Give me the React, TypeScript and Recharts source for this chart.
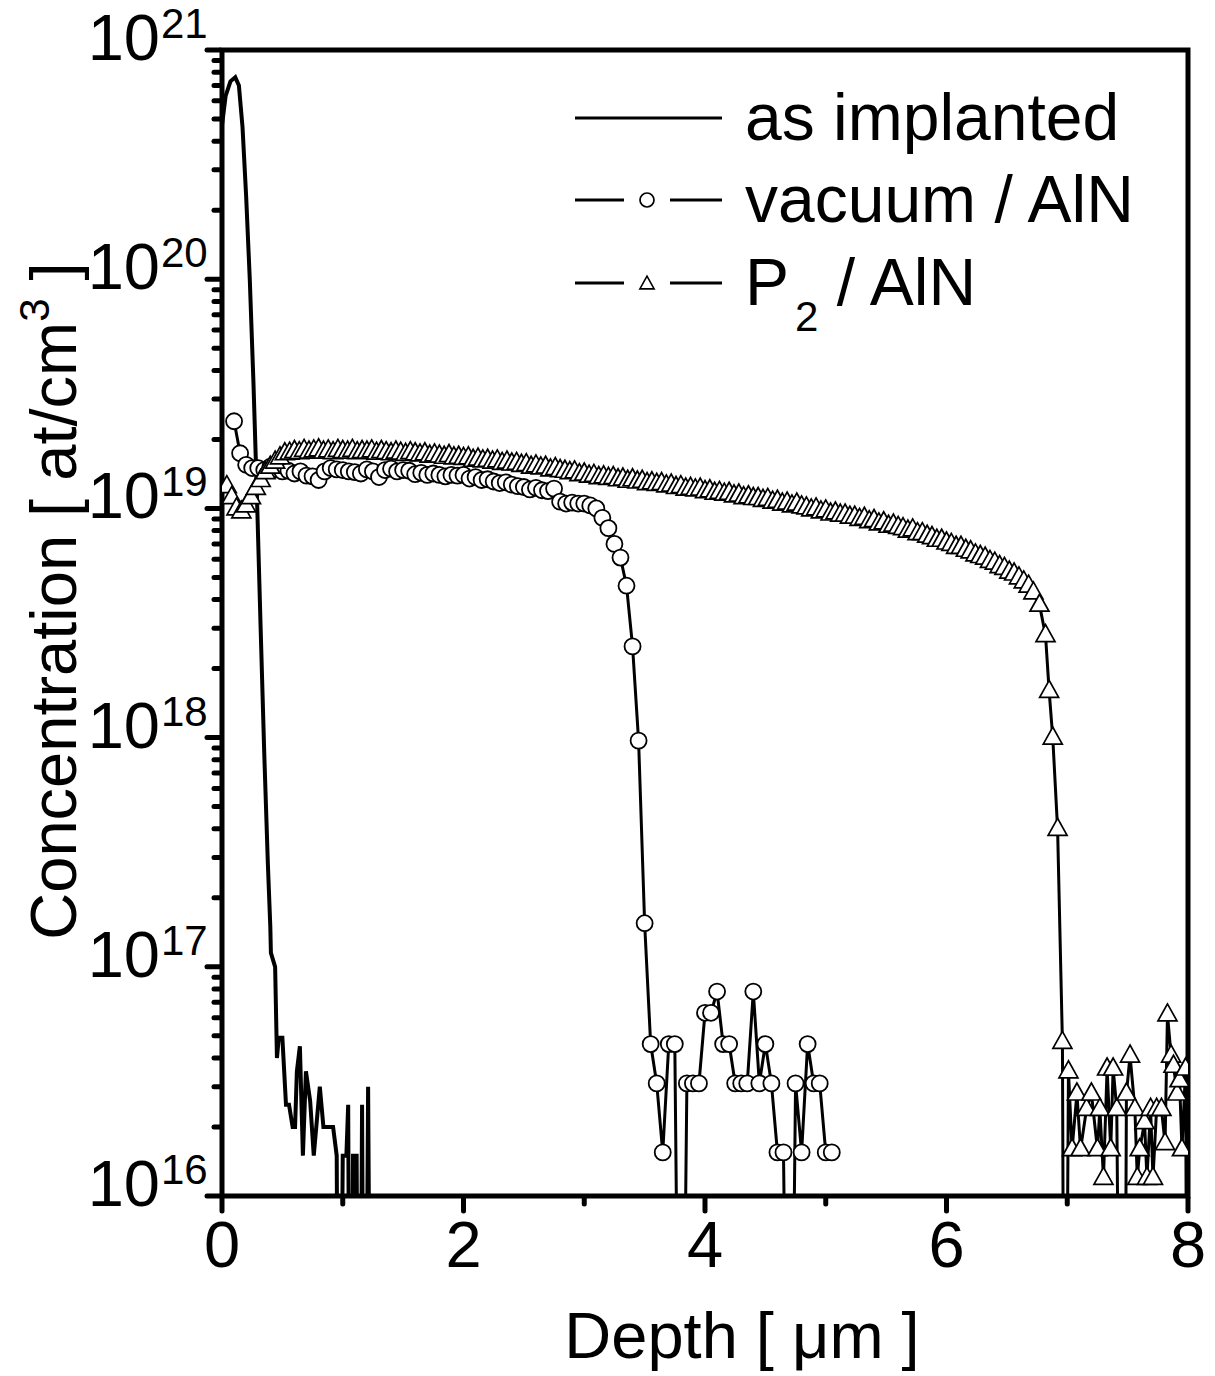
import React from "react";
import { LineChart, Line, XAxis, YAxis, ReferenceArea, Legend } from "recharts";

const W = 1215;
const H = 1376;
const FONT = "'Liberation Sans', Arial, Helvetica, sans-serif";

const xTicks = [0, 1, 2, 3, 4, 5, 6, 7, 8];
const xLabelTicks = [0, 2, 4, 6, 8];
const yDecades = [16, 17, 18, 19, 20, 21];
const yMinorSteps = [2, 3, 4, 5, 6, 7, 8, 9];
const seriesNames = ["as implanted", "vacuum / AlN", "P2 / AlN"];

// 0 = below detection limit; such points are drawn off the bottom of the log axis
const BELOW_RANGE = 1e14;

// as implanted: [depth (µm), concentration (at/cm3)]
const asImplanted: [number, number][] = [
  [0.0, 4.7e20], [0.03, 6.3e20], [0.07, 7.3e20], [0.11, 7.6e20], [0.14, 7.0e20],
  [0.17, 4.6e20], [0.2, 2.3e20], [0.23, 1.0e20], [0.26, 3.6e19], [0.29, 1.1e19],
  [0.32, 3.0e18], [0.35, 8.5e17], [0.38, 2.8e17], [0.4, 1.5e17], [0.405, 1.15e17],
  [0.44, 1.0e17], [0.455, 4.0e16], [0.47, 4.9e16], [0.5, 4.9e16], [0.53, 2.5e16],
  [0.555, 2.5e16], [0.585, 2.0e16], [0.605, 2.0e16], [0.62, 3.5e16], [0.645, 4.5e16],
  [0.67, 1.5e16], [0.695, 3.5e16], [0.73, 2.6e16], [0.76, 1.5e16], [0.81, 3.0e16],
  [0.84, 2.0e16], [0.92, 2.0e16], [0.95, 1.5e16], [0.97, 0], [1.0, 1.5e16],
  [1.03, 1.5e16], [1.045, 2.5e16], [1.065, 0], [1.085, 1.5e16], [1.115, 1.5e16],
  [1.135, 0], [1.16, 2.5e16], [1.18, 0], [1.21, 3.0e16], [1.24, 0],
];

// vacuum / AlN: SIMS points every 0.05 µm from 0.10 µm
const vacuumStart = 0.1;
const vacuumStep = 0.05;
const vacuumConc = [
  2.4e19, 1.74e19, 1.55e19, 1.5e19, 1.5e19, 1.47e19, 1.52e19, 1.48e19, 1.45e19, 1.46e19,
  1.42e19, 1.45e19, 1.39e19, 1.38e19, 1.33e19, 1.45e19, 1.5e19, 1.48e19, 1.47e19, 1.45e19,
  1.44e19, 1.42e19, 1.48e19, 1.45e19, 1.37e19, 1.47e19, 1.49e19, 1.45e19, 1.47e19, 1.46e19,
  1.41e19, 1.43e19, 1.4e19, 1.42e19, 1.4e19, 1.38e19, 1.4e19, 1.39e19, 1.4e19, 1.35e19,
  1.37e19, 1.33e19, 1.34e19, 1.31e19, 1.29e19, 1.3e19, 1.27e19, 1.25e19, 1.24e19, 1.21e19,
  1.23e19, 1.2e19, 1.19e19, 1.22e19, 1.07e19, 1.05e19, 1.06e19, 1.05e19, 1.05e19, 1.03e19,
  1.0e19, 9.1e18, 8.2e18, 7.0e18, 6.1e18, 4.6e18, 2.5e18, 9.7e17, 1.55e17, 4.6e16,
  3.1e16, 1.55e16, 4.6e16, 4.6e16, 0, 3.1e16, 3.1e16, 3.1e16, 6.3e16, 6.3e16,
  7.8e16, 4.6e16, 4.6e16, 3.1e16, 3.1e16, 3.1e16, 7.8e16, 3.1e16, 4.6e16, 3.1e16,
  1.55e16, 1.55e16, 0, 3.1e16, 1.55e16, 4.6e16, 3.1e16, 3.1e16, 1.55e16, 1.55e16,
];

// P2 / AlN plateau: points every 0.04 µm from 0.04 µm, in 1e19 at/cm3
const p2Start = 0.04;
const p2Step = 0.04;
const p2PlateauE19 = [
  1.25, 1.12, 1.0, 0.97, 1.03, 1.12, 1.23, 1.33, 1.44, 1.52,
  1.6, 1.67, 1.74, 1.75, 1.78, 1.76, 1.8, 1.77, 1.79, 1.81,
  1.77, 1.79, 1.76, 1.8, 1.78, 1.77, 1.8, 1.76, 1.78, 1.77,
  1.79, 1.75, 1.78, 1.76, 1.74, 1.77, 1.75, 1.73, 1.76, 1.74,
  1.72, 1.74, 1.7, 1.72, 1.7, 1.68, 1.71, 1.67, 1.68, 1.66,
  1.67, 1.63, 1.65, 1.62, 1.63, 1.6, 1.62, 1.58, 1.6, 1.57,
  1.58, 1.55, 1.56, 1.52, 1.54, 1.51, 1.52, 1.48, 1.5, 1.47,
  1.46, 1.44, 1.45, 1.41, 1.42, 1.39, 1.4, 1.37, 1.38, 1.36,
  1.37, 1.34, 1.35, 1.32, 1.34, 1.31, 1.32, 1.29, 1.3, 1.28,
  1.29, 1.26, 1.27, 1.24, 1.25, 1.22, 1.23, 1.21, 1.22, 1.19,
  1.2, 1.17, 1.18, 1.16, 1.17, 1.14, 1.15, 1.12, 1.13, 1.11,
  1.11, 1.09, 1.1, 1.07, 1.08, 1.05, 1.06, 1.03, 1.05, 1.02,
  1.01, 0.99, 1.0, 0.97, 0.98, 0.95, 0.96, 0.94, 0.94, 0.92,
  0.92, 0.9, 0.91, 0.88, 0.89, 0.86, 0.87, 0.84, 0.85, 0.83,
  0.82, 0.8, 0.81, 0.78, 0.78, 0.76, 0.75, 0.73, 0.73, 0.71,
  0.7, 0.68, 0.68, 0.66, 0.65, 0.63, 0.62, 0.61, 0.59, 0.58,
  0.56, 0.55, 0.53, 0.52, 0.5, 0.48, 0.46, 0.43,
];

// P2 / AlN edge and noise floor: [depth (µm), concentration (at/cm3)]
const p2Tail: [number, number][] = [
  [6.77, 3.8e18], [6.82, 2.8e18], [6.85, 1.6e18], [6.88, 1.0e18], [6.92, 4.0e17],
  [6.96, 4.7e16], [6.98, 0], [7.01, 3.5e16], [7.04, 1.6e16], [7.08, 2.8e16],
  [7.11, 1.6e16], [7.16, 2.4e16], [7.2, 2.8e16], [7.25, 1.6e16], [7.27, 2.4e16],
  [7.3, 1.2e16], [7.33, 3.6e16], [7.36, 1.6e16], [7.38, 3.6e16], [7.41, 2.4e16],
  [7.45, 0], [7.47, 0], [7.49, 2.8e16], [7.52, 4.1e16], [7.56, 2.4e16],
  [7.58, 1.2e16], [7.6, 1.6e16], [7.64, 2.1e16], [7.66, 1.2e16], [7.69, 2.4e16],
  [7.71, 1.2e16], [7.74, 2.4e16], [7.78, 2.4e16], [7.81, 1.7e16], [7.83, 6.2e16],
  [7.86, 4.1e16], [7.88, 3.7e16], [7.91, 2.8e16], [7.93, 3.2e16], [7.95, 1.6e16],
  [7.98, 3.6e16], [8.0, 0],
];

const toPoint = (x: number, v: number) => ({ x, y: v > 0 ? v : BELOW_RANGE });

const asImplantedData = asImplanted.map(([x, v]) => toPoint(x, v));
const vacuumData = vacuumConc.map((v, i) => toPoint(+(vacuumStart + i * vacuumStep).toFixed(3), v));
const p2Data = [
  ...p2PlateauE19.map((v, i) => toPoint(+(p2Start + i * p2Step).toFixed(3), v * 1e19)),
  ...p2Tail.map(([x, v]) => toPoint(x, v)),
];

const yTicks = yDecades.flatMap((d, i) =>
  i < yDecades.length - 1 ? [10 ** d, ...yMinorSteps.map((m) => m * 10 ** d)] : [10 ** d]
);

const XTick = (props: any) => {
  const { x, y, payload } = props;
  const major = xLabelTicks.includes(payload.value);
  return (
    <g>
      <line x1={x} x2={x} y1={y + 2} y2={y + (major ? 15 : 8)} stroke="#000" strokeWidth={5} strokeLinecap="round" />
      {major && (
        <text x={x} y={y + 71} textAnchor="middle" fontSize={65} fontFamily={FONT} fill="#000">
          {payload.value}
        </text>
      )}
    </g>
  );
};

const YTick = (props: any) => {
  const { x, y, payload } = props;
  const v = payload.value as number;
  const decade = yDecades.find((d) => 10 ** d === v);
  const major = decade !== undefined;
  return (
    <g>
      <line x1={x - 2} x2={x - (major ? 15 : 8)} y1={y} y2={y} stroke="#000" strokeWidth={5} strokeLinecap="round" />
      {major && (
        <g fontFamily={FONT} fill="#000">
          <text x={x - 62} y={y + 10} textAnchor="end" fontSize={65}>10</text>
          <text x={x - 61} y={y - 12} fontSize={42}>{decade}</text>
        </g>
      )}
    </g>
  );
};

const XTitle = () => (
  <text x={742} y={1358} textAnchor="middle" fontSize={65} fontFamily={FONT} fill="#000">
    Depth [ μm ]
  </text>
);

const YTitle = () => (
  <text transform="rotate(-90)" x={-601} y={76} textAnchor="middle" fontSize={65} fontFamily={FONT} fill="#000">
    Concentration [ at/cm
    <tspan dy={-27} fontSize={42}>3</tspan>
    <tspan dy={27}> ]</tspan>
  </text>
);

const CircleDot = (props: any) => {
  const { cx, cy, index } = props;
  if (cx == null || cy == null || !isFinite(cy)) return <g key={`c-${index}`} />;
  return <circle key={`c-${index}`} cx={cx} cy={cy} r={8} fill="#fff" stroke="#000" strokeWidth={1.8} />;
};

const triPoints = (cx: number, cy: number, s = 1) =>
  `${cx},${cy - 10.5 * s} ${cx - 9.5 * s},${cy + 6.5 * s} ${cx + 9.5 * s},${cy + 6.5 * s}`;

const TriangleDot = (props: any) => {
  const { cx, cy, index } = props;
  if (cx == null || cy == null || !isFinite(cy)) return <g key={`t-${index}`} />;
  return <polygon key={`t-${index}`} points={triPoints(cx, cy)} fill="#fff" stroke="#000" strokeWidth={1.7} />;
};

// legend box sits at page (560, 60)
const LegendBox = () => (
  <svg width={640} height={290} style={{ display: "block" }}>
    <g stroke="#000" strokeWidth={3}>
      <line x1={15} x2={162} y1={58} y2={58} />
      <line x1={15} x2={64} y1={140} y2={140} />
      <line x1={110} x2={162} y1={140} y2={140} />
      <line x1={15} x2={64} y1={223} y2={223} />
      <line x1={110} x2={162} y1={223} y2={223} />
    </g>
    <circle cx={87} cy={140} r={7} fill="#fff" stroke="#000" strokeWidth={1.7} />
    <polygon points={triPoints(87, 224, 0.75)} fill="#fff" stroke="#000" strokeWidth={1.6} />
    <g fontFamily={FONT} fontSize={66} fill="#000">
      <text x={185} y={80}>{seriesNames[0]}</text>
      <text x={185} y={162}>{seriesNames[1]}</text>
      <text x={185} y={245}>
        P
        <tspan dx={6} dy={26} fontSize={42}>2</tspan>
        <tspan dy={-26}> / AlN</tspan>
      </text>
    </g>
  </svg>
);

export default function App() {
  return (
    <div style={{ position: "absolute", left: 0, top: 0, background: "#fff" }}>
      <LineChart width={W} height={H} margin={{ top: 50, right: 27, left: 0, bottom: 0 }}>
        <XAxis
          type="number"
          dataKey="x"
          domain={[0, 8]}
          allowDataOverflow
          ticks={xTicks}
          interval={0}
          tick={<XTick />}
          tickLine={false}
          axisLine={false}
          tickSize={0}
          tickMargin={0}
          height={180}
          label={<XTitle />}
        />
        <YAxis
          type="number"
          dataKey="y"
          scale="log"
          domain={[1e16, 1e21]}
          allowDataOverflow
          ticks={yTicks}
          interval={0}
          tick={<YTick />}
          tickLine={false}
          axisLine={false}
          tickSize={0}
          tickMargin={0}
          width={222}
          label={<YTitle />}
        />
        <Legend
          layout="vertical"
          align="center"
          verticalAlign="middle"
          wrapperStyle={{ left: 560, top: 60, width: 640, height: 290 }}
          content={() => <LegendBox />}
        />
        <Line
          name={seriesNames[1]}
          data={vacuumData}
          dataKey="y"
          type="linear"
          stroke="#000"
          strokeWidth={3}
          dot={CircleDot}
          activeDot={false}
          isAnimationActive={false}
        />
        <Line
          name={seriesNames[2]}
          data={p2Data}
          dataKey="y"
          type="linear"
          stroke="#000"
          strokeWidth={3}
          dot={TriangleDot}
          activeDot={false}
          isAnimationActive={false}
        />
        <Line
          name={seriesNames[0]}
          data={asImplantedData}
          dataKey="y"
          type="linear"
          stroke="#000"
          strokeWidth={4}
          dot={false}
          activeDot={false}
          isAnimationActive={false}
        />
        <ReferenceArea
          x1={0}
          x2={8}
          y1={1e16}
          y2={1e21}
          ifOverflow="visible"
          fill="none"
          stroke="#000"
          strokeWidth={5}
        />
      </LineChart>
    </div>
  );
}
